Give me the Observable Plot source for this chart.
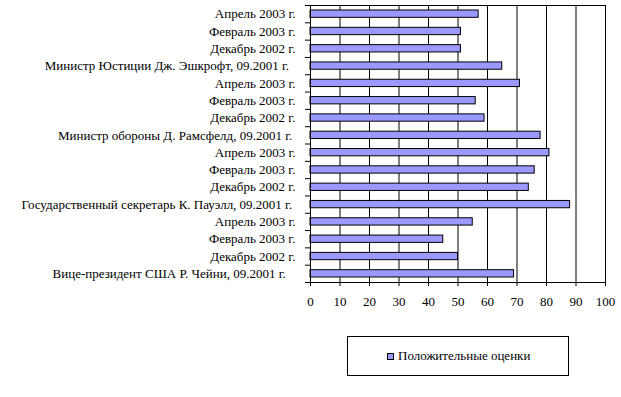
<!DOCTYPE html>
<html>
<head>
<meta charset="utf-8">
<script src="https://cdn.jsdelivr.net/npm/d3@7"></script>
<script src="https://cdn.jsdelivr.net/npm/@observablehq/plot@0.6"></script>
<style>
  html, body { margin: 0; padding: 0; background: white; }
  #wrap { position: relative; width: 621px; height: 397px; font-family: 'Liberation Serif', 'Times New Roman', Times, serif; }
  #chart svg, #chart svg text { font-family: 'Liberation Serif', 'Times New Roman', Times, serif !important; }
  #legend { position: absolute; left: 347px; top: 336px; width: 220px; height: 38px; border: 1px solid black; box-sizing: content-box; font-size: 13px; }
  #legend .sw { position: absolute; left: 39px; top: 16px; width: 5px; height: 5px; background: #9999FF; border: 1px solid black; }
  #legend .lb { position: absolute; left: 50px; top: 11px; white-space: nowrap; color: black; line-height: 15px; }
</style>
</head>
<body>
<div id="wrap">
  <div id="chart"></div>
  <div id="legend"><div class="sw"></div><div class="lb" id="legendLabel"></div></div>
</div>
<script>
const categories = [
  "Апрель 2003 г.",
  "Февраль 2003 г.",
  "Декабрь 2002 г.",
  "Министр Юстиции Дж. Эшкрофт, 09.2001 г.\u00a0\u00a0",
  "Апрель 2003 г.",
  "Февраль 2003 г.",
  "Декабрь 2002 г.",
  "Министр обороны Д. Рамсфелд, 09.2001 г.\u00a0",
  "Апрель 2003 г.",
  "Февраль 2003 г.",
  "Декабрь 2002 г.",
  "Государственный секретарь К. Пауэлл, 09.2001 г.\u00a0",
  "Апрель 2003 г.",
  "Февраль 2003 г.",
  "Декабрь 2002 г.",
  "Вице-президент США Р. Чейни, 09.2001 г.\u00a0\u00a0\u00a0"
];
const values = [57, 51, 51, 65, 71, 56, 59, 78, 81, 76, 74, 88, 55, 45, 50, 69];
const xTicks = [0, 10, 20, 30, 40, 50, 60, 70, 80, 90, 100];
const seriesName = "Положительные оценки";

const data = categories.map((label, i) => ({i, label, value: values[i]}));

const chart = Plot.plot({
  width: 621,
  height: 320,
  marginLeft: 310,
  marginRight: 16,
  marginTop: 5,
  marginBottom: 38,
  style: {fontFamily: "'Liberation Serif', 'Times New Roman', serif", fontSize: "13px", color: "black", background: "white", overflow: "visible"},
  x: {domain: [0, 100], label: null},
  y: {domain: [0, categories.length], reverse: true, label: null},
  marks: [
    Plot.gridX(xTicks.slice(1, -1), {stroke: "black", strokeOpacity: 1}),
    Plot.rectX(data, {x1: 0, x2: "value", y1: "i", y2: d => d.i + 1, insetTop: 5, insetBottom: 5, fill: "#9999FF", stroke: "black", strokeWidth: 1}),
    Plot.frame({stroke: "black"}),
    Plot.axisX(xTicks, {tickSize: 4, tickPadding: 10, stroke: "black", fill: "black", label: null, fontSize: 13}),
    Plot.axisY(d3.range(0, categories.length + 1), {tickSize: 5, tickFormat: () => "", stroke: "black", label: null}),
    Plot.axisY(data.map(d => d.i + 0.5), {tickSize: 0, tickPadding: 15, tickFormat: (v) => categories[Math.floor(v)], fill: "black", label: null, fontSize: 13})
  ]
});
document.getElementById("chart").appendChild(chart);
document.getElementById("legendLabel").textContent = seriesName;
</script>
</body>
</html>
